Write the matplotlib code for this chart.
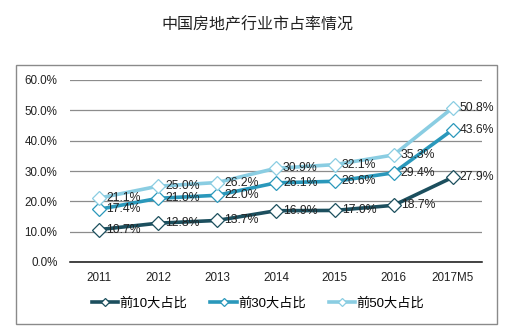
import matplotlib.pyplot as plt
from matplotlib.patches import Rectangle

plt.rcParams['font.family'] = ['Liberation Sans', 'Noto Sans CJK SC', 'DejaVu Sans']

years = ["2011", "2012", "2013", "2014", "2015", "2016", "2017M5"]
top10 = [10.7, 12.8, 13.7, 16.9, 17.0, 18.7, 27.9]
top30 = [17.4, 21.0, 22.0, 26.1, 26.6, 29.4, 43.6]
top50 = [21.1, 25.0, 26.2, 30.9, 32.1, 35.3, 50.8]
names = ["前10大占比", "前30大占比", "前50大占比"]
colors = ["#1c4f5e", "#2a98bb", "#8acde2"]

fig = plt.figure(figsize=(5.17, 3.36), dpi=100)
fig.patches.append(Rectangle((16 / 517, 1 - 324 / 336), 481 / 517, 259 / 336,
                             transform=fig.transFigure, fill=False,
                             edgecolor="#8a8a8a", linewidth=1.0))
fig.text(257 / 517, 1 - 25 / 336, "中国房地产行业市占率情况", ha="center", va="center",
         fontsize=11.5, color="#222222")

ax = fig.add_axes([70 / 517, 74 / 336, 412 / 517, 182 / 336])
x = list(range(len(years)))
for vals, name, col in zip([top10, top30, top50], names, colors):
    ax.plot(x, vals, color=col, linewidth=2.6, marker="D", markersize=7,
            markerfacecolor="white", markeredgecolor=col, markeredgewidth=0.9,
            label=name, zorder=3)
    for xi, v in zip(x, vals):
        ax.annotate(f"{v:.1f}%", (xi, v), xytext=(5, 0), textcoords="offset points",
                    ha="left", va="center", fontsize=8.8, color="#222222", zorder=4)

ax.set_xlim(-0.5, len(years) - 0.5)
ax.set_ylim(0, 60)
ax.set_yticks(range(0, 61, 10))
ax.set_yticklabels([f"{t:.1f}%" for t in range(0, 61, 10)])
ax.set_xticks(x)
ax.set_xticklabels(years)
ax.tick_params(axis="both", length=0, labelsize=8.4, colors="#222222")
ax.tick_params(axis="y", pad=9)
ax.tick_params(axis="x", pad=7)
ax.grid(axis="y", color="#8c8c8c", linewidth=0.9)
ax.set_axisbelow(True)
for s in ["top", "right", "left"]:
    ax.spines[s].set_visible(False)
ax.spines["bottom"].set_color("#111111")
ax.spines["bottom"].set_linewidth(1.1)

leg = fig.legend(loc="center", bbox_to_anchor=(258 / 517, 1 - 303 / 336), ncol=3,
                 frameon=False, fontsize=9.5, handlelength=2.0, handletextpad=0.1,
                 columnspacing=1.75, markerscale=0.65)

fig.savefig("out.png", dpi=100)
